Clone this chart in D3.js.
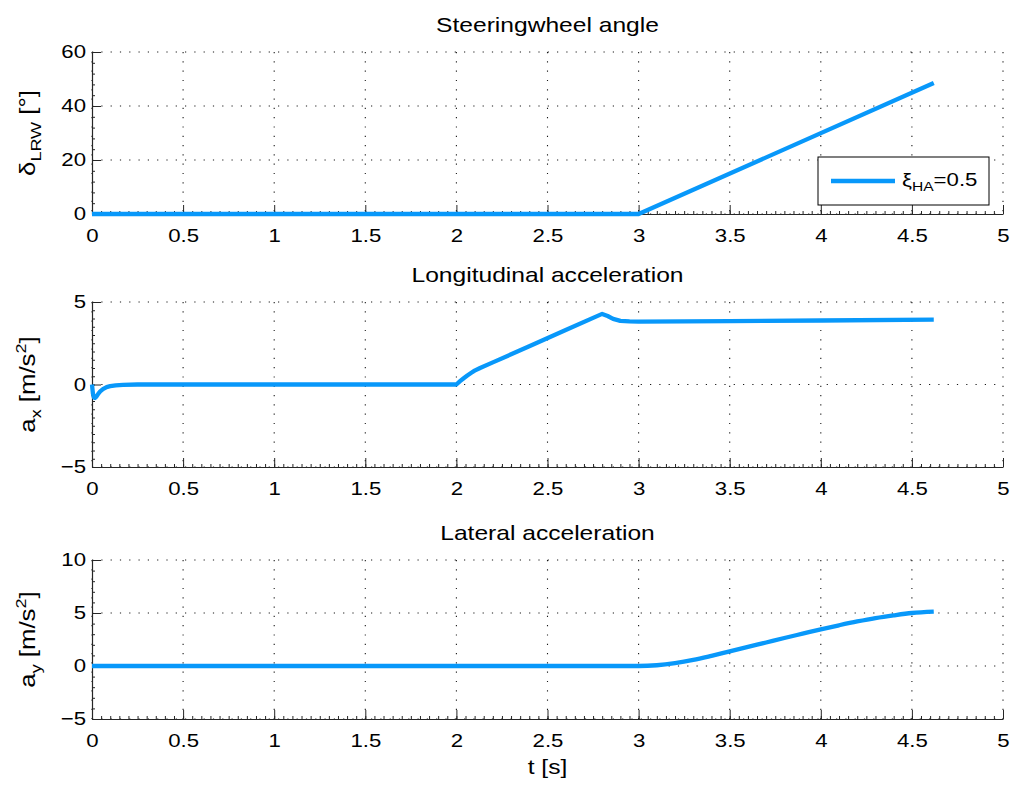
<!DOCTYPE html>
<html>
<head>
<meta charset="utf-8">
<script src="https://cdn.jsdelivr.net/npm/d3@7/dist/d3.min.js"></script>
<style>
  body { margin: 0; background: #fff; }
  svg text { font-family: 'Liberation Sans', Arial, Helvetica, sans-serif; fill: #000; }
  .grid line { stroke: #000; stroke-opacity: 0.9; stroke-width: 1.1; stroke-dasharray: 1.2, 8.1; }
  .axis path, .axis line { stroke: #262626; }
</style>
</head>
<body>
<svg width="1014" height="785"></svg>
<script>
// time axis (shared by all three plots)
const timeTicks = [0, 0.5, 1, 1.5, 2, 2.5, 3, 3.5, 4, 4.5, 5];
const timeTickLabels = ['0', '0.5', '1', '1.5', '2', '2.5', '3', '3.5', '4', '4.5', '5'];

// steering wheel angle [deg]
const steerTime = [0, 3, 4.62];
const steerAngle = [0, 0, 48.5];
const steerTicks = [0, 20, 40, 60];

// longitudinal acceleration [m/s^2]
const axTime = [0, 0.005, 0.01, 0.016, 0.025, 0.035, 0.045, 0.06, 0.08, 0.1, 0.13, 0.17, 0.25,
  2.0, 2.02, 2.04, 2.06, 2.08, 2.1, 2.13, 2.2, 2.4, 2.6, 2.8, 2.83, 2.86, 2.9, 2.95, 3.0, 3.5, 4.0, 4.62];
const axValue = [0, -0.55, -0.78, -0.82, -0.72, -0.55, -0.42, -0.28, -0.16, -0.1, -0.05, -0.02, 0,
  0, 0.2, 0.38, 0.55, 0.7, 0.84, 1.0, 1.34, 2.32, 3.3, 4.28, 4.15, 3.98, 3.86, 3.82, 3.81, 3.84, 3.88, 3.93];
const axTicks = [-5, 0, 5];
const axTickLabels = ['\u22125', '0', '5'];

// lateral acceleration [m/s^2]
const ayTime = [0, 3, 3.1, 3.2, 3.3, 3.4, 3.5, 3.6, 3.7, 3.8, 3.9, 4.0, 4.1, 4.2, 4.3, 4.4, 4.5, 4.62];
const ayValue = [0, 0, 0.07, 0.27, 0.57, 0.96, 1.38, 1.8, 2.22, 2.64, 3.05, 3.46, 3.84, 4.2, 4.52, 4.78, 5.0, 5.13];
const ayTicks = [-5, 0, 5, 10];
const ayTickLabels = ['\u22125', '0', '5', '10'];

const lineColor = '#0898fa';
const stretch = 'scale(1.2,1)'; // the original fonts are a bit wider than Arial

var svg = d3.select('svg');

var left = 92, right = 1003;
var x = d3.scaleLinear().domain([0, 5]).range([left, right]);

// one subplot: title, grid, axes, line
function drawPanel(p) {
  var y = d3.scaleLinear().domain(p.domain).range([p.bottom, p.top]);
  var g = svg.append('g');

  // dotted grid
  var grid = g.append('g').attr('class', 'grid');
  grid.selectAll('.vx').data(timeTicks).enter().append('line')
    .attr('x1', d => x(d)).attr('x2', d => x(d))
    .attr('y1', p.top).attr('y2', p.bottom);
  grid.selectAll('.hy').data(p.ticks).enter().append('line')
    .attr('x1', left).attr('x2', right)
    .attr('y1', d => y(d)).attr('y2', d => y(d));

  // minor ticks
  g.append('g').attr('class', 'axis')
    .attr('transform', 'translate(0,' + p.bottom + ')')
    .call(d3.axisBottom(x).tickValues(d3.range(0, 5.001, 0.05)).tickSize(-3).tickSizeOuter(0).tickFormat(''))
    .select('.domain').remove();
  g.append('g').attr('class', 'axis')
    .attr('transform', 'translate(' + left + ',0)')
    .call(d3.axisLeft(y).tickValues(d3.range(p.domain[0], p.domain[1] + 0.001, p.minor)).tickSize(-3).tickSizeOuter(0).tickFormat(''))
    .select('.domain').remove();

  // major axes
  var xa = g.append('g').attr('class', 'axis')
    .attr('transform', 'translate(0,' + p.bottom + ')')
    .call(d3.axisBottom(x).tickValues(timeTicks).tickSize(-9).tickSizeOuter(0).tickPadding(15)
      .tickFormat((d, i) => timeTickLabels[i]));
  xa.selectAll('text').attr('font-size', '18.5px').attr('transform', stretch);

  var ya = g.append('g').attr('class', 'axis')
    .attr('transform', 'translate(' + left + ',0)')
    .call(d3.axisLeft(y).tickValues(p.ticks).tickSize(-9).tickSizeOuter(0).tickPadding(5)
      .tickFormat((d, i) => p.tickLabels[i]));
  ya.selectAll('text').attr('font-size', '18.5px').attr('transform', stretch);
  g.selectAll('.axis text').attr('fill', '#000');
  g.selectAll('.domain').attr('stroke-width', 1.2);

  // title
  g.append('text')
    .attr('transform', 'translate(' + (left + right) / 2 + ',' + (p.top - 20) + ') ' + stretch)
    .attr('text-anchor', 'middle').attr('font-size', '20.5px')
    .text(p.title);

  // y label with sub/superscripts
  var lab = g.append('text')
    .attr('transform', 'translate(35,' + (p.top + p.bottom) / 2 + ') rotate(-90) ' + stretch)
    .attr('text-anchor', 'middle').attr('font-size', '21.5px');
  p.label.forEach(function (part) {
    var t = lab.append('tspan').text(part.t);
    if (part.s === 'sub') t.attr('font-size', '15px').attr('dy', 6);
    if (part.s === 'sup') t.attr('font-size', '15px').attr('dy', -9);
    if (part.s === 'back-sub') t.attr('dy', -6);
    if (part.s === 'back-sup') t.attr('dy', 9);
  });

  // data line
  var pts = p.time.map((t, i) => [t, p.values[i]]);
  g.append('path')
    .datum(pts)
    .attr('fill', 'none')
    .attr('stroke', lineColor)
    .attr('stroke-width', 4.3)
    .attr('stroke-linejoin', 'round')
    .attr('d', d3.line().curve(p.curve || d3.curveLinear).x(d => x(d[0])).y(d => y(d[1])));

  return g;
}

drawPanel({
  title: 'Steeringwheel angle', top: 52, bottom: 214, domain: [0, 60],
  ticks: steerTicks, tickLabels: steerTicks.map(String), minor: 4,
  label: [{ t: '\u03b4' }, { t: 'LRW', s: 'sub' }, { t: ' [\u00b0]', s: 'back-sub' }],
  time: steerTime, values: steerAngle
});

drawPanel({
  title: 'Longitudinal acceleration', top: 302, bottom: 467, domain: [-5, 5],
  ticks: axTicks, tickLabels: axTickLabels, minor: 0.5,
  label: [{ t: 'a' }, { t: 'x', s: 'sub' }, { t: ' [m/s', s: 'back-sub' }, { t: '2', s: 'sup' }, { t: ']', s: 'back-sup' }],
  time: axTime, values: axValue
});

drawPanel({
  title: 'Lateral acceleration', top: 560, bottom: 719, domain: [-5, 10],
  ticks: ayTicks, tickLabels: ayTickLabels, minor: 1,
  label: [{ t: 'a' }, { t: 'y', s: 'sub' }, { t: ' [m/s', s: 'back-sub' }, { t: '2', s: 'sup' }, { t: ']', s: 'back-sup' }],
  time: ayTime, values: ayValue, curve: d3.curveMonotoneX
});

// x label
svg.append('text')
  .attr('transform', 'translate(' + (left + right) / 2 + ',774) ' + stretch)
  .attr('text-anchor', 'middle').attr('font-size', '20.5px')
  .text('t [s]');

// legend in the top plot
var legend = svg.append('g').attr('transform', 'translate(818,157)');
legend.append('rect')
  .attr('width', 171).attr('height', 48)
  .attr('fill', '#fff').attr('stroke', '#000').attr('stroke-width', 1);
legend.append('line')
  .attr('x1', 13).attr('x2', 77).attr('y1', 24).attr('y2', 24)
  .attr('stroke', lineColor).attr('stroke-width', 4.3);
var lt = legend.append('text')
  .attr('transform', 'translate(84,29) ' + stretch)
  .attr('font-size', '18.5px');
lt.append('tspan').text('\u03be');
lt.append('tspan').text('HA').attr('font-size', '13px').attr('dy', 5);
lt.append('tspan').text('=0.5').attr('dy', -5);
</script>
</body>
</html>
